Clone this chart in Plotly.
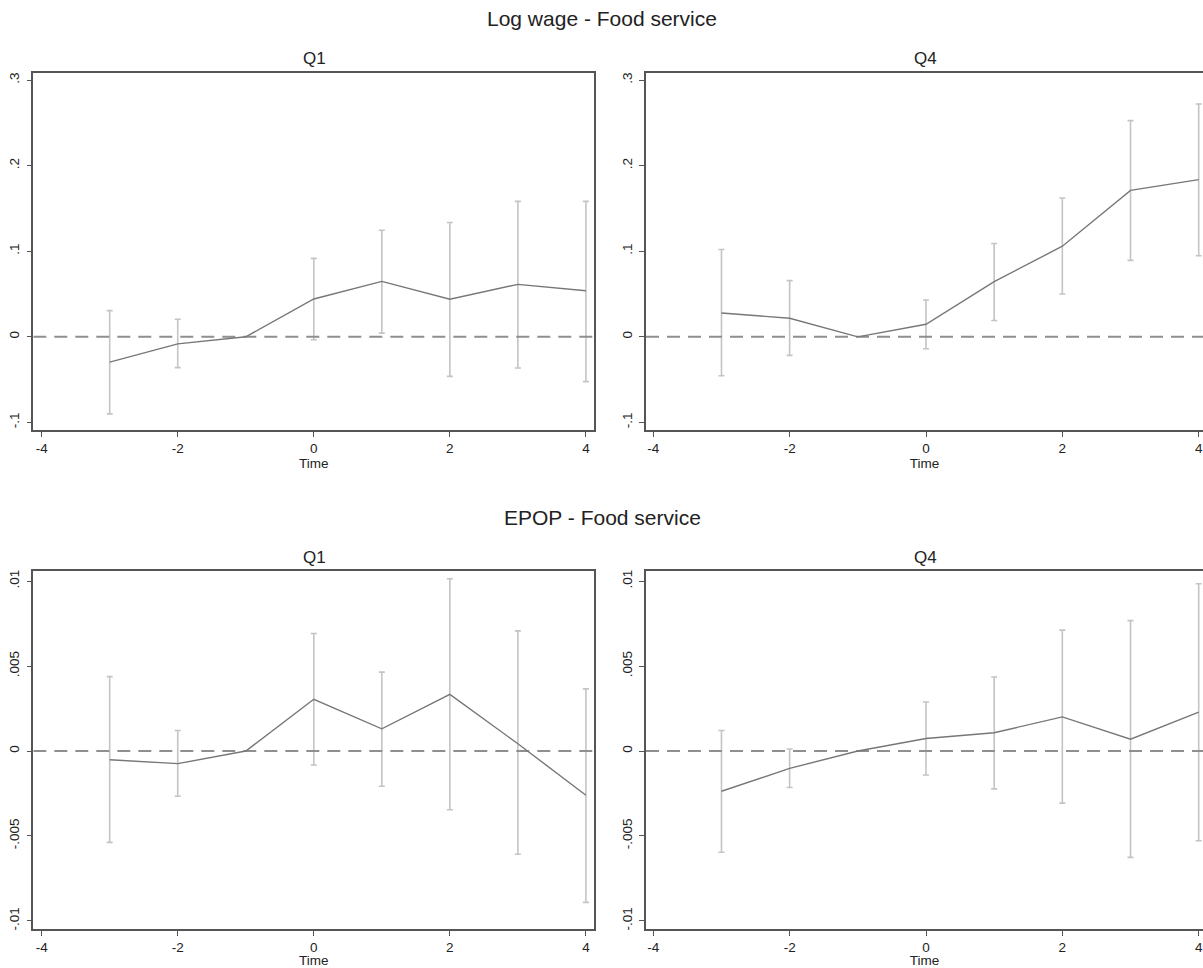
import plotly.graph_objects as go

time = [-3, -2, -1, 0, 1, 2, 3, 4]

# Log wage - Food service
lw_q1_est = [-0.0295, -0.0082, 0.0, 0.0442, 0.0648, 0.0439, 0.0613, 0.0539]
lw_q1_hi = [0.0306, 0.0206, None, 0.0916, 0.1245, 0.1335, 0.1583, 0.1583]
lw_q1_lo = [-0.0900, -0.0360, None, -0.0035, 0.0043, -0.0462, -0.0365, -0.0524]

lw_q4_est = [0.0279, 0.0217, 0.0, 0.0147, 0.0644, 0.1059, 0.1711, 0.1836]
lw_q4_hi = [0.1020, 0.0656, None, 0.0431, 0.1090, 0.1622, 0.2526, 0.2720]
lw_q4_lo = [-0.0454, -0.0217, None, -0.0140, 0.0190, 0.0500, 0.0893, 0.0947]

# EPOP - Food service
ep_q1_est = [-0.00051, -0.00074, 0.0, 0.00305, 0.00131, 0.00334, 0.00043, -0.00260]
ep_q1_hi = [0.00438, 0.00121, None, 0.00692, 0.00465, 0.01015, 0.00708, 0.00366]
ep_q1_lo = [-0.00538, -0.00266, None, -0.00082, -0.00207, -0.00346, -0.00608, -0.00891]

ep_q4_est = [-0.00237, -0.00102, 0.0, 0.00074, 0.00108, 0.00201, 0.00070, 0.00229]
ep_q4_hi = [0.00121, 0.00012, None, 0.00289, 0.00436, 0.00712, 0.00768, 0.00985]
ep_q4_lo = [-0.00596, -0.00215, None, -0.00141, -0.00223, -0.00307, -0.00626, -0.00528]

x_ticks = [-4, -2, 0, 2, 4]
lw_yticks = [-0.1, 0, 0.1, 0.2, 0.3]
lw_ylabels = ["-.1", "0", ".1", ".2", ".3"]
ep_yticks = [-0.01, -0.005, 0, 0.005, 0.01]
ep_ylabels = ["-.01", "-.005", "0", ".005", ".01"]

W, H = 1203, 968
LINE_C = "#777777"
CI_C = "#c4c4c4"
FRAME_C = "#555555"
TXT_C = "#222222"
TICK_FONT = dict(family="Liberation Sans Narrow, Liberation Sans, Arial", size=13.5, color=TXT_C)


def px_x(v):
    return v / W


def px_y(v):
    return 1 - v / H


fig = go.Figure()

panels = [
    (lw_q1_est, lw_q1_hi, lw_q1_lo, "", (33.3, 594.3), (72, 430.7), (-0.1093, 0.3085), lw_yticks, lw_ylabels, True, (-4.123, 4.123)),
    (lw_q4_est, lw_q4_hi, lw_q4_lo, "2", (646, 1203), (72, 430.7), (-0.1093, 0.3085), lw_yticks, lw_ylabels, False, (-4.107, 4.063)),
    (ep_q1_est, ep_q1_hi, ep_q1_lo, "3", (33.3, 594.3), (572, 930.7), (-0.01047, 0.01059), ep_yticks, ep_ylabels, True, (-4.123, 4.123)),
    (ep_q4_est, ep_q4_hi, ep_q4_lo, "4", (646, 1203), (572, 930.7), (-0.01047, 0.01059), ep_yticks, ep_ylabels, False, (-4.107, 4.063)),
]

layout_axes = {}
for est, hi, lo, sfx, xd, yd, yr, yt, yl, mir, xr in panels:
    xa = "x" + sfx
    ya = "y" + sfx
    ci_x = [t for t, h in zip(time, hi) if h is not None]
    ci_e = [e for e, h in zip(est, hi) if h is not None]
    ci_p = [h - e for e, h in zip(est, hi) if h is not None]
    ci_m = [e - l for e, l in zip(est, lo) if l is not None]
    fig.add_trace(go.Scatter(
        x=ci_x, y=ci_e, mode="markers",
        marker=dict(size=1, color="rgba(0,0,0,0)"),
        error_y=dict(type="data", symmetric=False, array=ci_p, arrayminus=ci_m,
                     color=CI_C, thickness=1.6, width=3),
        xaxis=xa, yaxis=ya, showlegend=False, hoverinfo="skip"))
    # zero reference line
    fig.add_trace(go.Scatter(
        x=[xr[0], xr[1]], y=[0, 0], mode="lines",
        line=dict(color="#8f8f8f", width=2, dash="13px,8px"),
        xaxis=xa, yaxis=ya, showlegend=False, hoverinfo="skip"))
    fig.add_trace(go.Scatter(
        x=time, y=est, mode="lines",
        line=dict(color=LINE_C, width=1.4),
        xaxis=xa, yaxis=ya, showlegend=False))
    layout_axes["xaxis" + sfx] = dict(
        domain=[px_x(xd[0]), min(px_x(xd[1]), 1.0)], range=list(xr), anchor=ya,
        tickmode="array", tickvals=x_ticks, ticktext=[str(v) for v in x_ticks],
        ticks="outside", ticklen=5, tickwidth=1, tickcolor=FRAME_C,
        showline=True, linecolor=FRAME_C, linewidth=1.5, mirror=True,
        showgrid=False, zeroline=False, tickfont=TICK_FONT, ticklabeloverflow="allow",
        title=dict(text="Time", font=TICK_FONT, standoff=0),
    )
    layout_axes["yaxis" + sfx] = dict(
        domain=[px_y(yd[1]), px_y(yd[0])], range=list(yr), anchor=xa,
        tickmode="array", tickvals=yt, ticktext=yl, tickangle=-90,
        ticks="outside", ticklen=5, tickwidth=1, tickcolor=FRAME_C,
        showline=True, linecolor=FRAME_C, linewidth=1.5, mirror=mir,
        showgrid=False, zeroline=False, tickfont=TICK_FONT, ticklabelstandoff=2,
    )

fig.update_layout(**layout_axes)

TITLE_FONT = dict(family="Liberation Sans, Arial", size=21, color=TXT_C)
SUB_FONT = dict(family="Liberation Sans, Arial", size=17, color=TXT_C)
annots = [
    ("Log wage - Food service", 602, 18, TITLE_FONT),
    ("Q1", 314, 58, SUB_FONT),
    ("Q4", 926, 58, SUB_FONT),
    ("EPOP - Food service", 602, 518, TITLE_FONT),
    ("Q1", 314, 558, SUB_FONT),
    ("Q4", 926, 558, SUB_FONT),
]
for text, px, py, font in annots:
    fig.add_annotation(text=text, x=px_x(px), y=px_y(py), xref="paper", yref="paper",
                       xanchor="center", yanchor="middle", showarrow=False, font=font)

fig.update_layout(
    width=W, height=H,
    margin=dict(l=0, r=0, t=0, b=0),
    paper_bgcolor="white", plot_bgcolor="white",
    showlegend=False,
)

fig.write_html("out.html",
               config={"displayModeBar": False},
               post_script="document.body.style.margin='0';document.body.style.overflow='hidden';")
